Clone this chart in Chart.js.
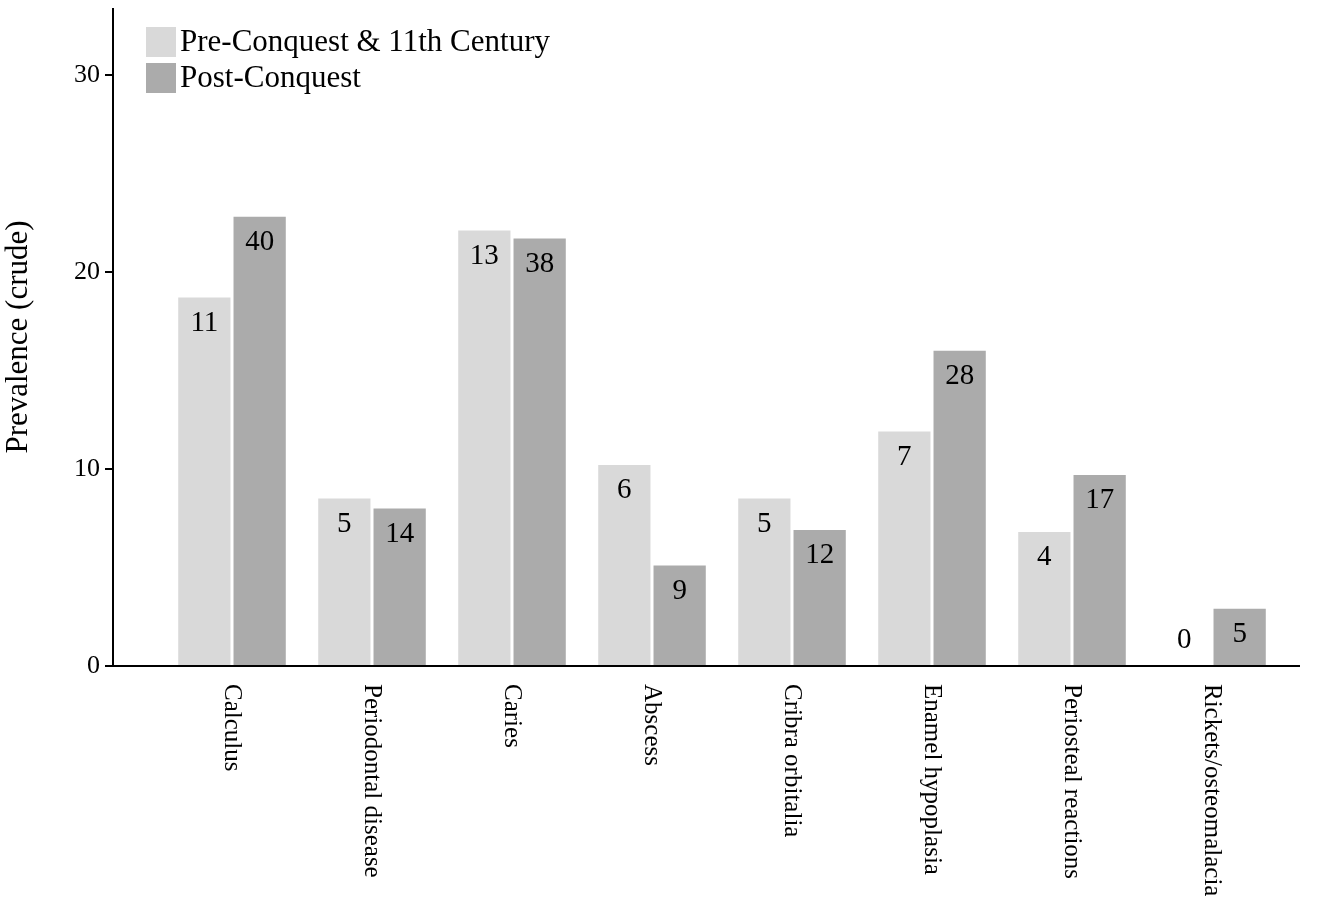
<!DOCTYPE html>
<html><head><meta charset="utf-8">
<script src="https://cdn.jsdelivr.net/npm/chart.js@4"></script>
<style>html,body{margin:0;background:#fff}#wrap{width:1333px;height:903px}</style>
</head><body><div id="wrap"><canvas id="c"></canvas></div>
<script>
const categories = ['Calculus', 'Periodontal disease', 'Caries', 'Abscess', 'Cribra orbitalia', 'Enamel hypoplasia', 'Periosteal reactions', 'Rickets/osteomalacia'];
const preValues = [18.7, 8.5, 22.1, 10.2, 8.5, 11.9, 6.8, 0];
const postValues = [22.8, 8.0, 21.7, 5.1, 6.9, 16.0, 9.7, 2.9];
const preCounts = [11, 5, 13, 6, 5, 7, 4, 0];
const postCounts = [40, 14, 38, 9, 12, 28, 17, 5];
const yTicks = [0, 10, 20, 30];
const seriesNames = ['Pre-Conquest & 11th Century', 'Post-Conquest'];
const colors = ['#d9d9d9', '#ababab'];
const serif = '"Liberation Serif", "DejaVu Serif", serif';
const axisX = 113, axisRight = 1300;

const decor = {
  id: 'decor',
  afterDatasetsDraw(chart) {
    const ctx = chart.ctx;
    const ys = chart.scales.y, xs = chart.scales.x;
    const bottom = chart.chartArea.bottom, top = chart.chartArea.top;
    const counts = [preCounts, postCounts];
    ctx.save();
    // axes with outward ticks
    ctx.strokeStyle = '#000';
    ctx.lineWidth = 2;
    ctx.beginPath();
    ctx.moveTo(axisX, top); ctx.lineTo(axisX, bottom);
    ctx.lineTo(axisRight, bottom);
    yTicks.forEach(t => { const y = ys.getPixelForValue(t); ctx.moveTo(axisX - 8, y); ctx.lineTo(axisX, y); });
    ctx.stroke();
    ctx.fillStyle = '#000';
    ctx.font = '26px ' + serif;
    ctx.textAlign = 'right';
    ctx.textBaseline = 'middle';
    yTicks.forEach(t => ctx.fillText(t, axisX - 13, ys.getPixelForValue(t)));
    // counts inside the bars
    ctx.font = '29px ' + serif;
    ctx.textAlign = 'center';
    ctx.textBaseline = 'top';
    chart.data.datasets.forEach((ds, i) => {
      chart.getDatasetMeta(i).data.forEach((bar, j) => {
        const y = ds.data[j] === 0 ? bar.y - 40 : bar.y + 11;
        ctx.fillText(counts[i][j], bar.x, y);
      });
    });
    // category labels, reading top to bottom
    ctx.font = '25px ' + serif;
    ctx.textAlign = 'left';
    ctx.textBaseline = 'middle';
    categories.forEach((c, j) => {
      ctx.save();
      ctx.translate(xs.getPixelForValue(j), bottom + 18);
      ctx.rotate(Math.PI / 2);
      ctx.fillText(c, 0, 0);
      ctx.restore();
    });
    // legend
    ctx.font = '31px ' + serif;
    seriesNames.forEach((n, i) => {
      const y = 27 + i * 36;
      ctx.fillStyle = colors[i];
      ctx.fillRect(axisX + 33, y, 30, 30);
      ctx.fillStyle = '#000';
      ctx.fillText(n, axisX + 67, y + 16);
    });
    ctx.restore();
  }
};

new Chart(document.getElementById('c'), {
  type: 'bar',
  data: {
    labels: categories,
    datasets: [
      { label: seriesNames[0], data: preValues, backgroundColor: colors[0] },
      { label: seriesNames[1], data: postValues, backgroundColor: colors[1] }
    ]
  },
  options: {
    responsive: true, maintainAspectRatio: false, animation: false,
    layout: { padding: { top: 8, right: 51, bottom: 0, left: 0 } },
    categoryPercentage: 0.79, barPercentage: 0.945,
    plugins: { legend: { display: false }, tooltip: { enabled: false } },
    scales: {
      x: {
        grid: { display: false, drawTicks: false },
        border: { display: false },
        ticks: { display: false },
        afterFit(s) { s.height = 237; }
      },
      y: {
        min: 0, max: 33.4,
        afterBuildTicks(s) { s.ticks = yTicks.map(v => ({ value: v })); },
        grid: { display: false, drawTicks: false },
        border: { display: false },
        ticks: { display: false },
        title: { display: true, text: 'Prevalence (crude)', color: '#000', font: { family: serif, size: 31 }, padding: 0 },
        afterFit(s) { s.width = 162; }
      }
    }
  },
  plugins: [decor]
});
</script></body></html>
